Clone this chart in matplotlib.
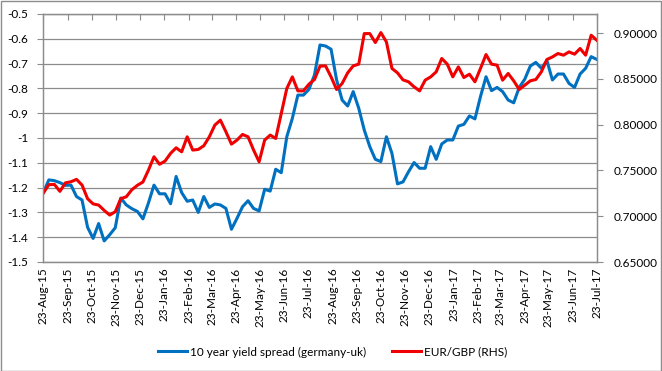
import matplotlib
matplotlib.use("Agg")
import matplotlib.pyplot as plt
from matplotlib.patches import Rectangle
import pandas as pd

plt.rcParams['font.family'] = ['Lato', 'DejaVu Sans']

start_date = "2015-08-23"
n_weeks = 101

yield_spread = [
    -1.220, -1.169, -1.172, -1.180, -1.191, -1.190, -1.236, -1.250, -1.360, -1.405,
    -1.345, -1.415, -1.390, -1.362, -1.242, -1.270, -1.285, -1.296, -1.326, -1.262,
    -1.190, -1.225, -1.225, -1.265, -1.155, -1.220, -1.255, -1.250, -1.300, -1.236,
    -1.280, -1.266, -1.270, -1.284, -1.368, -1.324, -1.277, -1.253, -1.284, -1.294,
    -1.207, -1.214, -1.126, -1.140, -0.995, -0.921, -0.827, -0.827, -0.804, -0.746,
    -0.625, -0.629, -0.642, -0.766, -0.847, -0.871, -0.813, -0.880, -0.968, -1.035,
    -1.086, -1.095, -0.995, -1.062, -1.185, -1.177, -1.136, -1.099, -1.122, -1.122,
    -1.035, -1.086, -1.024, -1.008, -1.008, -0.952, -0.945, -0.911, -0.923, -0.833,
    -0.753, -0.809, -0.796, -0.813, -0.847, -0.858, -0.796, -0.763, -0.710, -0.695,
    -0.719, -0.688, -0.766, -0.742, -0.742, -0.780, -0.796, -0.742, -0.719, -0.672,
    -0.683,
]

eurgbp = [
    0.7253, 0.7345, 0.7348, 0.7272, 0.7365, 0.7377, 0.7403, 0.7341, 0.7192, 0.7135,
    0.7122, 0.7064, 0.7013, 0.7049, 0.7192, 0.7213, 0.7290, 0.7338, 0.7374, 0.7504,
    0.7650, 0.7568, 0.7603, 0.7687, 0.7748, 0.7704, 0.7868, 0.7723, 0.7730, 0.7770,
    0.7868, 0.7996, 0.8050, 0.7923, 0.7788, 0.7832, 0.7894, 0.7868, 0.7723, 0.7595,
    0.7832, 0.7887, 0.7850, 0.8123, 0.8396, 0.8523, 0.8370, 0.8370, 0.8443, 0.8494,
    0.8640, 0.8643, 0.8523, 0.8385, 0.8451, 0.8567, 0.8643, 0.8662, 0.8996, 0.8996,
    0.8898, 0.9007, 0.8905, 0.8615, 0.8567, 0.8490, 0.8469, 0.8414, 0.8370, 0.8487,
    0.8523, 0.8578, 0.8724, 0.8662, 0.8523, 0.8632, 0.8516, 0.8552, 0.8469, 0.8615,
    0.8767, 0.8662, 0.8651, 0.8487, 0.8560, 0.8480, 0.8385, 0.8432, 0.8480, 0.8494,
    0.8578, 0.8713, 0.8741, 0.8778, 0.8760, 0.8796, 0.8771, 0.8833, 0.8760, 0.8978,
    0.8924,
]

tick_dates = pd.date_range("2015-08-01", "2017-07-01", freq="MS") + pd.Timedelta(days=22)
tick_labels = [d.strftime("%d-%b-%y") for d in tick_dates]

left_ticks = [-0.5, -0.6, -0.7, -0.8, -0.9, -1.0, -1.1, -1.2, -1.3, -1.4, -1.5]
left_labels = ["-0.5", "-0.6", "-0.7", "-0.8", "-0.9", "-1", "-1.1", "-1.2", "-1.3", "-1.4", "-1.5"]
right_ticks = [0.65, 0.70, 0.75, 0.80, 0.85, 0.90]

dates = pd.date_range(start_date, periods=n_weeks, freq="7D")

BLUE = "#0070C0"
RED = "#F00000"
GRID = "#8C8C8C"

fig = plt.figure(figsize=(6.62, 3.71), dpi=100)
ax = fig.add_axes([43.3/662, 1-262/371, (596.7-43.3)/662, (262-14)/371])
ax2 = ax.twinx()

l1, = ax.plot(dates, yield_spread, color=BLUE, lw=2.2, solid_joinstyle='round',
              label="10 year yield spread (germany-uk)")
l2, = ax2.plot(dates, eurgbp, color=RED, lw=2.2, solid_joinstyle='round',
               label="EUR/GBP (RHS)")

ax.set_ylim(-1.5, -0.5)
ax.set_yticks(left_ticks)
ax.set_yticklabels(left_labels)
ax2.set_ylim(0.65, 0.921)
ax2.set_yticks(right_ticks)
ax2.set_yticklabels([f"{v:.5f}" for v in right_ticks])

ax.set_xlim(tick_dates[0], tick_dates[-1])
ax.set_xticks(tick_dates)
ax.set_xticklabels(tick_labels, rotation=90)

ax.grid(axis='y', color=GRID, lw=0.9)
ax.set_axisbelow(True)

for a in (ax, ax2):
    for s in a.spines.values():
        s.set_color(GRID)
        s.set_linewidth(0.9)

ax.tick_params(axis='x', bottom=False, top=True, direction='in', length=4,
               color=GRID, labelbottom=True, labeltop=False, labelsize=8.5, pad=4)
ax.tick_params(axis='y', direction='out', length=4, color=GRID, labelsize=8.5, pad=7)
ax2.tick_params(axis='y', direction='out', length=4, color=GRID, labelsize=8.5, pad=8)

fig.legend(handles=[l1, l2], loc='center', bbox_to_anchor=(0.503, 1-352/371),
           ncol=2, frameon=False, fontsize=8.5, handlelength=2.4, columnspacing=2.2,
           handletextpad=0.3)

fig.patches.append(Rectangle((0.5/662, 0.5/371), 1-1.5/662, 1-1.5/371,
                             transform=fig.transFigure, fill=False,
                             edgecolor="#8C8C8C", lw=1.0))

fig.savefig("out.png", dpi=100)
